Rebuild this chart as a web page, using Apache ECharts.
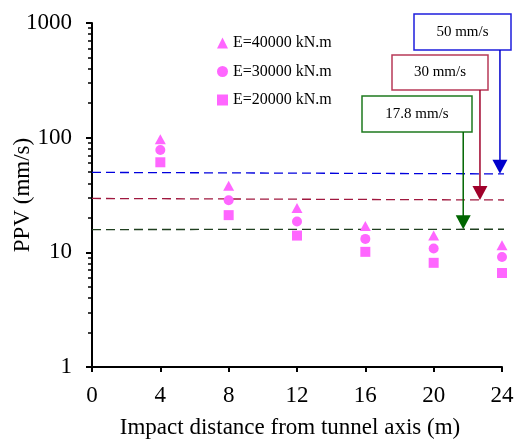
<!DOCTYPE html>
<html><head><meta charset="utf-8">
<script src="https://cdn.jsdelivr.net/npm/echarts@6/dist/echarts.min.js"></script>
<style>html,body{margin:0;padding:0;background:#fff}#c{width:516px;height:441px}</style>
</head><body><div id="c"></div><script>
// ---- data ----
const distances = [4, 8, 12, 16, 20, 24];
const ppvE40000 = [97, 38, 24.3, 17.0, 14.0, 11.5];
const ppvE30000 = [78, 28.5, 18.6, 13.1, 10.8, 9.1];
const ppvE20000 = [61, 21.1, 14.0, 10.1, 8.1, 6.6];
const seriesNames = ['E=40000 kN.m', 'E=30000 kN.m', 'E=20000 kN.m'];
const thresholdLabels = ['50 mm/s', '30 mm/s', '17.8 mm/s'];
const thresholdStart = [49.8, 29.5, 15.8];
const thresholdEnd = [48.3, 28.6, 15.9];
const thresholdXRange = [0, 24.5];
const arrowX = [23.88, 22.71, 21.73];
const xTickValues = [0, 4, 8, 12, 16, 20, 24];

// ---- styles ----
const FONT = 'Liberation Serif, Times New Roman, serif';
const PINK = '#FF66FF';
const lineColors = ['#0000DD', '#A0183F', '#1F3F1F'];
const arrowColors = ['#0000CC', '#A0002A', '#006600'];
const boxColors = ['#1E1EDD', '#B83A58', '#1E7A1E'];

const chart = echarts.init(document.getElementById('c'), null, {renderer: 'canvas'});

const symbols = ['triangle', 'circle', 'rect'];
const pts = [ppvE40000, ppvE30000, ppvE20000];
const scatterSeries = seriesNames.map((n, i) => ({
  name: n, type: 'scatter', xAxisIndex: 0, yAxisIndex: 0,
  symbol: symbols[i], symbolSize: i === 0 ? [11, 10] : 10,
  itemStyle: {color: PINK, opacity: 1},
  data: distances.map((d, k) => [d, pts[i][k]]),
  z: 5
}));
const lineSeries = thresholdLabels.map((l, i) => ({
  name: 'th' + i, type: 'line', xAxisIndex: 0, yAxisIndex: 0,
  clip: false, symbol: 'none', silent: true,
  lineStyle: {color: lineColors[i], width: 1.3, type: [9, 5]},
  data: [[thresholdXRange[0], thresholdStart[i]], [thresholdXRange[1], thresholdEnd[i]]],
  z: 3
}));

chart.setOption({
  animation: false,
  backgroundColor: '#fff',
  grid: {left: 92, right: 14, top: 23, bottom: 74, containLabel: false, outerBoundsMode: 'none'},
  legend: {
    data: seriesNames, orient: 'vertical', left: 212, top: 30,
    itemWidth: 11, itemHeight: 11, itemGap: 12.5,
    textStyle: {fontFamily: FONT, fontSize: 16, color: '#000', lineHeight: 16}
  },
  xAxis: [{
    type: 'value', min: 0, max: 24, interval: 4,
    name: 'Impact distance from tunnel axis (m)', nameLocation: 'middle', nameGap: 49,
    nameMoveOverlap: false,
    nameTextStyle: {fontFamily: FONT, fontSize: 23, color: '#000', padding: [0, 14, 0, 0]},
    axisLine: {show: true, lineStyle: {color: '#000', width: 2}},
    axisTick: {show: true, length: 5, lineStyle: {color: '#000', width: 2}},
    axisLabel: {fontFamily: FONT, fontSize: 23, color: '#000', margin: 17},
    splitLine: {show: false}
  }],
  yAxis: [{
    type: 'log', logBase: 10, min: 1, max: 1000,
    name: 'PPV (mm/s)', nameLocation: 'middle', nameGap: 58, nameRotate: 90,
    nameMoveOverlap: false,
    nameTextStyle: {fontFamily: FONT, fontSize: 23, color: '#000'},
    axisLine: {show: true, lineStyle: {color: '#000', width: 2}},
    axisTick: {show: true, length: 6, lineStyle: {color: '#000', width: 2}},
    axisLabel: {fontFamily: FONT, fontSize: 23, color: '#000', margin: 20, formatter: v => String(v)},
    splitLine: {show: false},
    minorTick: {show: true, splitNumber: 9, length: 4, lineStyle: {color: '#000', width: 1.5}}
  }],
  series: [...lineSeries, ...scatterSeries]
});

// ---- annotation boxes with arrows ----
const boxes = [
  {x: 414, y: 14, w: 97, h: 36},
  {x: 392, y: 55, w: 96, h: 35},
  {x: 362, y: 96, w: 110, h: 36}
];
const graphics = [];
thresholdLabels.forEach((lab, i) => {
  const b = boxes[i];
  const tipVal = thresholdStart[i] + (thresholdEnd[i] - thresholdStart[i]) * (arrowX[i] - thresholdXRange[0]) / (thresholdXRange[1] - thresholdXRange[0]);
  const tip = chart.convertToPixel({xAxisIndex: 0, yAxisIndex: 0}, [arrowX[i], tipVal]);
  const ax = tip[0], ty = tip[1];
  const headH = 14, headW = 15;
  graphics.push({type: 'rect', shape: {x: b.x, y: b.y, width: b.w, height: b.h},
    style: {fill: '#fff', stroke: boxColors[i], lineWidth: 1.5}, z: 10});
  graphics.push({type: 'text', x: b.x + b.w / 2, y: b.y + b.h / 2,
    style: {text: lab, fontFamily: FONT, fontSize: 15, fill: '#000', align: 'center', verticalAlign: 'middle'}, z: 11});
  graphics.push({type: 'line', shape: {x1: ax, y1: b.y + b.h, x2: ax, y2: ty - headH + 1},
    style: {stroke: arrowColors[i], lineWidth: 1.5}, z: 10});
  graphics.push({type: 'polygon', shape: {points: [[ax - headW / 2, ty - headH], [ax + headW / 2, ty - headH], [ax, ty]]},
    style: {fill: arrowColors[i]}, z: 10});
});
chart.setOption({graphic: graphics});
</script></body></html>
